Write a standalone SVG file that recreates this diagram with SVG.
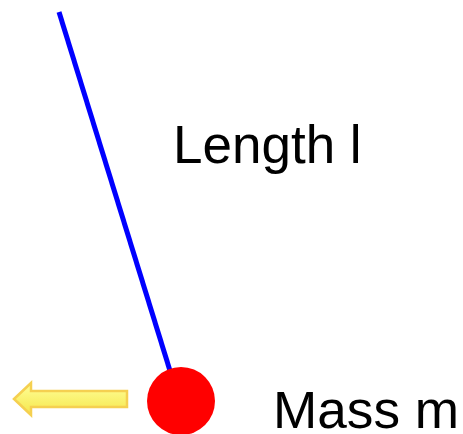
<svg xmlns="http://www.w3.org/2000/svg" width="463" height="434" viewBox="0 0 463 434">
<defs>
<linearGradient id="yg" x1="0" y1="0" x2="0" y2="1">
<stop offset="0" stop-color="#ffff99"/>
<stop offset="1" stop-color="#f5e64a"/>
</linearGradient>
<style>
.lbl{font-family:"Liberation Sans",Arial,sans-serif;fill:#000}
</style>
</defs>
<g id="connectors">
<line x1="59" y1="12" x2="171" y2="374" stroke="#0000ff" stroke-width="5"/>
</g>
<g id="mass">
<circle cx="181" cy="401" r="34" fill="#ff0000"/>
</g>
<g id="arrow">
<polygon points="14,399 31,383 31,391 127,391 127,407 31,407 31,415" fill="url(#yg)" stroke="#f5d050" stroke-width="2.5" stroke-linejoin="miter"/>
</g>
<g id="label-length">
<text class="lbl" x="173" y="163" font-size="53">Length l</text>
</g>
<g id="label-mass">
<text class="lbl" x="273" y="428" font-size="51" textLength="186" lengthAdjust="spacingAndGlyphs">Mass m</text>
</g>
</svg>
